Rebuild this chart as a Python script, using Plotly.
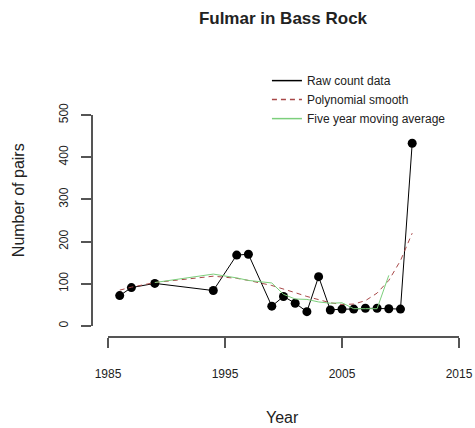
import plotly.graph_objects as go

years = [1986, 1987, 1989, 1994, 1996, 1997, 1999, 2000, 2001, 2002, 2003,
         2004, 2005, 2006, 2007, 2008, 2009, 2010, 2011]
raw_counts = [72, 91, 101, 84, 168, 170, 47, 70, 54, 34, 117,
              38, 40, 40, 42, 42, 41, 40, 433]
poly_smooth = [85, 92, 103, 118, 113, 108, 96, 88, 79, 70, 62,
               55, 51, 52, 60, 78, 108, 155, 220]
ma_years = [1989, 1994, 1996, 1997, 1999, 2000, 2001, 2002, 2003, 2004, 2005,
            2006, 2007, 2008, 2009]
moving_avg = [103, 123, 114, 108, 102, 75, 64, 63, 57, 54, 55,
              41, 41, 41, 120]
x_ticks = [1985, 1995, 2005, 2015]
y_ticks = [0, 100, 200, 300, 400, 500]

FONT = "Liberation Sans, Arial, sans-serif"
TXT = "#222222"
AXC = "#555555"

RAW_C = "black"
POLY_C = "#a84848"
MA_C = "#7ccf7c"

fig = go.Figure()
fig.add_trace(go.Scatter(
    x=years, y=raw_counts, mode="lines+markers", name="Raw count data",
    line=dict(color=RAW_C, width=1), showlegend=False,
    marker=dict(color=RAW_C, size=9)))
fig.add_trace(go.Scatter(
    x=years, y=poly_smooth, mode="lines", name="Polynomial smooth",
    line=dict(color=POLY_C, width=1, dash="5px,4px"), showlegend=False))
fig.add_trace(go.Scatter(
    x=ma_years, y=moving_avg, mode="lines", name="Five year moving average",
    line=dict(color=MA_C, width=1), showlegend=False))

# legend-only entries (line keys, as in the reference)
fig.add_trace(go.Scatter(x=[None], y=[None], mode="lines", name="Raw count data",
                         line=dict(color=RAW_C, width=1.5)))
fig.add_trace(go.Scatter(x=[None], y=[None], mode="lines", name="Polynomial smooth",
                         line=dict(color=POLY_C, width=1.5, dash="5px,4px")))
fig.add_trace(go.Scatter(x=[None], y=[None], mode="lines", name="Five year moving average",
                         line=dict(color=MA_C, width=1.5)))

fig.add_annotation(text="Number of pairs", textangle=-90, xref="paper", yref="paper",
                   x=-0.198, y=0.578, xanchor="center", yanchor="middle", showarrow=False,
                   font=dict(family=FONT, size=16, color=TXT))
fig.add_annotation(text="Year", xref="paper", yref="paper",
                   x=0.512, y=-0.3376, xanchor="center", yanchor="middle", showarrow=False,
                   font=dict(family=FONT, size=16, color=TXT))

fig.update_layout(
    width=475, height=428,
    margin=dict(l=92, r=10, t=100, b=91, autoexpand=False),
    paper_bgcolor="white", plot_bgcolor="white",
    font=dict(family=FONT, size=12, color=TXT),
    title=dict(text="<b>Fulmar in Bass Rock</b>", x=0.512, xref="paper", y=0.958,
               yanchor="middle", font=dict(family=FONT, size=17, color=TXT)),
    showlegend=True,
    legend=dict(x=0.469, y=1.143, xanchor="left", yanchor="top",
                bgcolor="rgba(0,0,0,0)", font=dict(family=FONT, size=12, color=TXT),
                tracegroupgap=0, itemwidth=30),
    xaxis=dict(domain=[0.0429, 0.9839], range=[x_ticks[0], x_ticks[-1]],
               tickvals=x_ticks, anchor="free", position=0, automargin=False,
               showgrid=False, zeroline=False, showline=True, linecolor=AXC,
               linewidth=1.5, ticks="outside", ticklen=10,
               tickcolor=AXC, tickwidth=1.5, ticklabelstandoff=16),
    yaxis=dict(domain=[0.0464, 0.9367], range=[y_ticks[0], y_ticks[-1]],
               tickvals=y_ticks, anchor="free", position=0, automargin=False,
               showgrid=False, zeroline=False, showline=True, linecolor=AXC,
               linewidth=1.5, ticks="outside", ticklen=10,
               tickcolor=AXC, tickwidth=1.5, tickangle=-90, ticklabelstandoff=8),
)

fig.write_html("out.html", config={"displayModeBar": False},
               post_script="document.body.style.margin='0';")
